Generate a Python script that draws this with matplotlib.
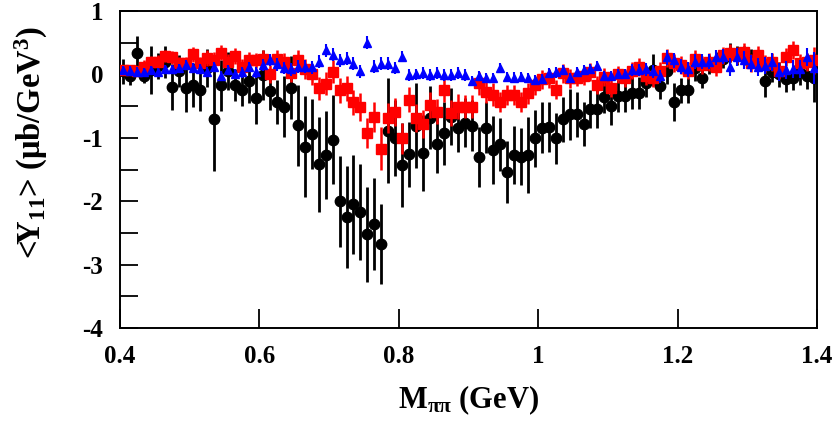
import numpy as np
import matplotlib
matplotlib.use("Agg")
import matplotlib.pyplot as plt
from matplotlib.ticker import MultipleLocator

plt.rcParams['font.family'] = ['Liberation Serif', 'DejaVu Serif']
plt.rcParams['font.weight'] = 'bold'
plt.rcParams['mathtext.fontset'] = 'custom'
plt.rcParams['mathtext.rm'] = 'Liberation Serif:bold'
plt.rcParams['mathtext.bf'] = 'Liberation Serif:bold'
plt.rcParams['mathtext.it'] = 'Liberation Serif:bold:italic'
plt.rcParams['mathtext.default'] = 'bf'

# bin centres (GeV)
mass = [round(0.405 + 0.01 * i, 3) for i in range(100)]

black_y = [0.05, -0.02, 0.33, -0.03, 0.07, 0.13, 0.20, -0.20, 0.05, -0.21,
           -0.17, -0.24, 0.10, -0.70, -0.17, 0.06, -0.17, -0.25, -0.10, -0.38,
           -0.01, -0.26, -0.44, -0.51, -0.21, -0.80, -1.14, -0.94, -1.42, -1.27,
           -1.03, -2.00, -2.25, -2.05, -2.17, -2.52, -2.36, -2.67, -0.89, -1.01,
           -1.43, -1.26, -0.81, -1.24, -0.68, -1.09, -0.93, -0.67, -0.84, -0.76,
           -0.81, -1.30, -0.84, -1.19, -1.10, -1.54, -1.27, -1.30, -1.27, -1.01,
           -0.84, -0.83, -1.01, -0.71, -0.63, -0.63, -0.78, -0.55, -0.55, -0.36,
           -0.50, -0.34, -0.34, -0.29, -0.29, -0.13, 0.07, -0.19, 0.05, -0.44,
           -0.25, -0.25, 0.10, -0.06, 0.15, 0.20, 0.25, 0.34, 0.30, 0.30,
           0.25, 0.20, -0.11, 0.03, 0.00, -0.08, -0.05, 0.03, -0.03, -0.05]
black_err = [0.20, 0.15, 0.28, 0.10, 0.38, 0.20, 0.25, 0.36, 0.25, 0.38,
             0.35, 0.33, 0.30, 0.83, 0.40, 0.30, 0.25, 0.25, 0.35, 0.40,
             0.40, 0.30, 0.35, 0.48, 0.50, 0.64, 0.80, 0.55, 0.75, 0.70,
             0.70, 0.72, 0.80, 0.78, 0.75, 0.75, 0.72, 0.63, 0.83, 0.60,
             0.66, 0.51, 0.67, 0.60, 0.50, 0.47, 0.50, 0.45, 0.38, 0.38,
             0.40, 0.47, 0.40, 0.54, 0.42, 0.49, 0.46, 0.45, 0.60, 0.45,
             0.40, 0.40, 0.40, 0.35, 0.40, 0.35, 0.35, 0.30, 0.30, 0.25,
             0.30, 0.25, 0.25, 0.25, 0.25, 0.22, 0.25, 0.20, 0.20, 0.30,
             0.20, 0.20, 0.20, 0.15, 0.15, 0.15, 0.15, 0.15, 0.15, 0.15,
             0.15, 0.15, 0.25, 0.15, 0.20, 0.20, 0.20, 0.20, 0.20, 0.38]

red_y = [0.07, 0.07, 0.05, 0.12, 0.19, 0.20, 0.29, 0.27, 0.18, 0.18,
         0.32, 0.18, 0.26, 0.23, 0.34, 0.20, 0.29, 0.12, 0.23, 0.22,
         0.24, 0.01, 0.25, 0.19, 0.02, 0.23, 0.08, 0.00, -0.22, -0.15,
         0.04, -0.25, -0.22, -0.44, -0.52, -0.92, -0.67, -1.17, -0.69, -0.60,
         -1.01, -0.40, -0.69, -0.78, -0.48, -0.59, -0.24, -0.61, -0.51, -0.51,
         -0.51, -0.14, -0.27, -0.32, -0.43, -0.32, -0.32, -0.43, -0.30, -0.17,
         -0.08, -0.06, -0.24, 0.02, -0.06, -0.05, -0.03, 0.04, -0.17, -0.04,
         -0.22, 0.00, -0.06, 0.06, 0.12, -0.02, -0.06, 0.06, 0.26, 0.18,
         0.15, 0.06, 0.25, 0.15, 0.20, 0.12, 0.30, 0.34, 0.30, 0.35,
         0.18, 0.31, 0.17, 0.20, 0.06, 0.27, 0.38, 0.18, 0.19, 0.22]
red_err = [0.08, 0.08, 0.08, 0.10, 0.10, 0.10, 0.10, 0.10, 0.10, 0.10,
           0.12, 0.10, 0.12, 0.12, 0.12, 0.12, 0.12, 0.12, 0.12, 0.12,
           0.14, 0.14, 0.14, 0.14, 0.14, 0.16, 0.16, 0.16, 0.18, 0.18,
           0.18, 0.20, 0.20, 0.20, 0.22, 0.24, 0.24, 0.34, 0.24, 0.22,
           0.24, 0.20, 0.22, 0.22, 0.20, 0.20, 0.20, 0.20, 0.20, 0.18,
           0.18, 0.18, 0.18, 0.18, 0.16, 0.16, 0.16, 0.16, 0.16, 0.15,
           0.15, 0.15, 0.15, 0.15, 0.15, 0.14, 0.14, 0.14, 0.14, 0.14,
           0.14, 0.14, 0.14, 0.14, 0.14, 0.14, 0.14, 0.14, 0.14, 0.14,
           0.14, 0.14, 0.14, 0.14, 0.14, 0.14, 0.14, 0.14, 0.14, 0.14,
           0.14, 0.14, 0.14, 0.14, 0.14, 0.14, 0.14, 0.14, 0.14, 0.22]

blue_y = [0.07, 0.06, 0.04, 0.03, 0.07, 0.03, 0.08, 0.08, 0.10, 0.15,
          0.10, 0.09, 0.04, 0.12, -0.02, 0.07, 0.01, 0.03, 0.12, 0.03,
          0.15, 0.23, 0.16, 0.10, 0.08, 0.12, 0.12, 0.11, 0.20, 0.38,
          0.31, 0.22, 0.25, 0.17, 0.05, 0.50, 0.12, 0.17, 0.17, 0.10,
          0.28, -0.01, 0.00, 0.02, -0.01, 0.02, -0.01, -0.01, 0.02, -0.01,
          -0.10, -0.02, -0.06, -0.06, 0.10, -0.04, -0.05, -0.04, -0.06, -0.09,
          -0.07, 0.02, 0.03, 0.07, -0.06, 0.04, 0.07, 0.08, 0.13, -0.03,
          -0.03, 0.00, 0.01, 0.07, 0.07, 0.08, 0.05, -0.03, 0.27, 0.22,
          0.12, 0.08, 0.20, 0.20, 0.20, 0.27, 0.28, 0.12, 0.28, 0.23,
          0.17, 0.12, 0.14, 0.19, 0.04, 0.07, 0.09, 0.09, 0.28, 0.10]
blue_err = [0.07, 0.07, 0.07, 0.07, 0.07, 0.07, 0.07, 0.07, 0.07, 0.07,
            0.08, 0.08, 0.08, 0.08, 0.08, 0.08, 0.08, 0.08, 0.08, 0.08,
            0.09, 0.09, 0.10, 0.10, 0.10, 0.10, 0.10, 0.10, 0.10, 0.10,
            0.10, 0.10, 0.10, 0.10, 0.10, 0.10, 0.10, 0.10, 0.10, 0.10,
            0.09, 0.09, 0.09, 0.09, 0.09, 0.09, 0.09, 0.09, 0.09, 0.09,
            0.08, 0.08, 0.08, 0.08, 0.08, 0.08, 0.08, 0.08, 0.08, 0.08,
            0.08, 0.08, 0.08, 0.08, 0.08, 0.08, 0.08, 0.08, 0.08, 0.08,
            0.08, 0.08, 0.08, 0.10, 0.10, 0.10, 0.10, 0.10, 0.12, 0.12,
            0.12, 0.12, 0.12, 0.12, 0.12, 0.12, 0.12, 0.14, 0.14, 0.14,
            0.14, 0.14, 0.14, 0.14, 0.14, 0.14, 0.14, 0.14, 0.14, 0.25]

x_ticks = [0.4, 0.6, 0.8, 1.0, 1.2, 1.4]
x_tick_labels = ['0.4', '0.6', '0.8', '1', '1.2', '1.4']
y_ticks = [1, 0, -1, -2, -3, -4]
y_tick_labels = ['1', '0', '-1', '-2', '-3', '-4']

fig = plt.figure(figsize=(8.39, 4.26), dpi=100)
ax = fig.add_axes([120/839, 1 - 328/426, 697/839, 317/426])

ax.errorbar(mass, black_y, yerr=black_err, fmt='o', color='black', ms=7.5,
            elinewidth=2, capsize=0, zorder=2)
ax.errorbar(mass, red_y, yerr=red_err, fmt='s', color='#ff0000', ms=6.5,
            elinewidth=1.8, capsize=0, zorder=3)
ax.errorbar(mass, blue_y, yerr=blue_err, fmt='^', color='#0000ff', ms=6,
            elinewidth=1.5, capsize=0, zorder=4)

ax.set_xlim(0.4, 1.4)
ax.set_ylim(-4, 1)
ax.set_xticks(x_ticks)
ax.set_xticklabels(x_tick_labels)
ax.set_yticks(y_ticks)
ax.set_yticklabels(y_tick_labels)
ax.yaxis.set_minor_locator(MultipleLocator(0.5))
ax.tick_params(axis='x', which='major', direction='in', length=14, width=1.3,
               labelsize=18, pad=12, top=False)
ax.tick_params(axis='y', which='both', direction='in', length=13, width=1.3,
               labelsize=18, pad=12, right=False)
for lab in ax.get_xticklabels() + ax.get_yticklabels():
    lab.set_fontweight('bold')
for sp in ax.spines.values():
    sp.set_linewidth(1.4)

ax.set_xlabel(r'M$_{\pi\pi}$ (GeV)', fontsize=22, fontweight='bold')
ax.xaxis.set_label_coords(0.5, -0.175)
ax.set_ylabel(r'<Y$_{11}$> (μb/GeV$^{3}$)', fontsize=23.5, fontweight='bold')
ax.yaxis.set_label_coords(-0.10, 0.585)

fig.savefig('out.png', dpi=100)
